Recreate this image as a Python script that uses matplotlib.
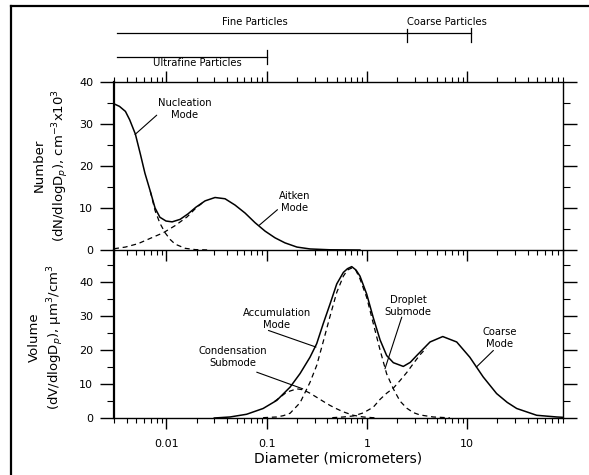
import numpy as np
import matplotlib
matplotlib.use("Agg")
import matplotlib.pyplot as plt
import matplotlib.transforms as mtransforms
from matplotlib.lines import Line2D
from matplotlib.ticker import LogLocator, MultipleLocator, NullFormatter

# diameters in micrometers
# number distribution (upper panel), cm^-3 x 10^3
num_total_d = [0.0030, 0.0034, 0.0039, 0.0043, 0.0049, 0.0055, 0.0061, 0.0069, 0.0077, 0.0086,
               0.0099, 0.0114, 0.0137, 0.0164, 0.0197, 0.0243, 0.0305, 0.0384, 0.0483, 0.0608,
               0.0765, 0.0962, 0.121, 0.152, 0.200, 0.270, 0.428, 0.85]
num_total = [34.8, 34.2, 33.0, 31.0, 27.6, 22.8, 18.3, 14.0, 10.0, 7.8,
             6.9, 6.7, 7.3, 8.6, 10.2, 11.7, 12.5, 12.2, 10.7, 8.8,
             6.5, 4.5, 2.9, 1.7, 0.7, 0.25, 0.05, 0.0]
nucl_d = [0.0069, 0.0077, 0.0086, 0.0097, 0.0109, 0.0122, 0.0154, 0.0193, 0.0272]
nucl = [14.0, 9.4, 6.4, 4.1, 2.5, 1.4, 0.4, 0.1, 0.0]
aitken_d = [0.0030, 0.0039, 0.0052, 0.0071, 0.0093, 0.0122, 0.0161, 0.0197, 0.0243]
aitken = [0.3, 0.7, 1.5, 2.9, 4.1, 5.8, 7.9, 10.0, 11.7]

# volume distribution (lower panel), um^3/cm^3
vol_total_d = [0.030, 0.043, 0.063, 0.092, 0.126, 0.171, 0.215, 0.270, 0.315, 0.366,
               0.428, 0.499, 0.581, 0.639, 0.704, 0.777, 0.851, 0.993, 1.156, 1.35,
               1.57, 1.83, 2.30, 2.70, 3.13, 4.25, 5.69, 7.84, 10.6, 14.4,
               19.6, 25.0, 31.1, 49.2, 77.9, 90.0]
vol_total = [0.0, 0.3, 1.1, 2.8, 5.2, 9.1, 13.1, 17.9, 21.9, 27.8,
             33.6, 39.5, 42.9, 44.0, 44.6, 43.6, 41.8, 36.5, 29.5, 23.0,
             18.4, 16.3, 15.2, 16.4, 18.4, 22.4, 24.0, 22.4, 17.9, 12.1,
             7.2, 4.6, 2.8, 0.8, 0.3, 0.2]
cond_d = [0.120, 0.158, 0.199, 0.232, 0.270, 0.315, 0.366, 0.428, 0.499, 0.581, 0.730, 0.918, 1.20]
cond = [4.9, 7.6, 8.6, 8.3, 7.3, 6.1, 4.9, 3.7, 2.7, 1.8, 0.8, 0.3, 0.05]
drop_d = [0.092, 0.126, 0.147, 0.171, 0.215, 0.270, 0.315, 0.366, 0.428, 0.499,
          0.581, 0.639, 0.704, 0.777, 0.851, 0.993, 1.156, 1.35, 1.57, 1.83,
          2.13, 2.49, 2.89, 3.37, 4.58, 6.70]
drop = [0.1, 0.3, 0.7, 1.4, 4.5, 10.5, 15.5, 22.5, 30.0, 37.0,
        41.8, 43.6, 44.2, 43.4, 41.0, 35.5, 27.8, 20.0, 13.0, 8.6,
        5.0, 2.9, 1.6, 0.9, 0.3, 0.05]
coarse_d = [0.45, 0.58, 0.73, 0.918, 1.156, 1.35, 1.57, 1.83, 2.13, 2.49, 2.89, 3.37, 3.90]
coarse = [0.1, 0.3, 0.6, 1.5, 3.2, 5.5, 7.3, 8.8, 11.0, 13.4, 16.0, 18.6, 20.6]

x_ticks = [0.01, 0.1, 1, 10]
x_ticklabels = ["0.01", "0.1", "1", "10"]
y_ticks = [0, 10, 20, 30, 40]

# size class boundaries (um)
fine_range = (0.0032, 2.5)
coarse_range = (2.5, 11.0)
ultrafine_range = (0.0032, 0.1)

W, H = 589, 475
fig = plt.figure(figsize=(W / 100, H / 100), dpi=100)
fig.patch.set_facecolor("white")

# lower panel first so the upper panel's bottom ticks stay visible
ax_v = fig.add_axes([114 / W, 1 - 418 / H, 449 / W, 168 / H])
ax_n = fig.add_axes([114 / W, 1 - 250 / H, 449 / W, 168 / H])

for ax in (ax_n, ax_v):
    ax.patch.set_visible(False)
    ax.set_xscale("log")
    ax.set_xlim(0.003, 90)
    ax.xaxis.set_major_locator(LogLocator(base=10, numticks=50))
    ax.xaxis.set_minor_locator(LogLocator(base=10, subs=np.arange(2, 10), numticks=50))
    ax.xaxis.set_minor_formatter(NullFormatter())
    ax.set_yticks(y_ticks)
    ax.yaxis.set_minor_locator(MultipleLocator(5))
    ax.tick_params(axis="y", which="major", direction="out", length=10, width=1.0,
                   left=True, right=True, labelright=False, labelsize=8, pad=5)
    ax.tick_params(axis="y", which="minor", direction="out", length=5, width=0.8,
                   left=True, right=True)
    ax.tick_params(axis="x", which="major", direction="out", length=8, width=1.0, labelsize=8, pad=7)
    ax.tick_params(axis="x", which="minor", direction="out", length=3.6, width=0.8)
    for side in ("top", "bottom", "right"):
        ax.spines[side].set_linewidth(1.0)
    ax.spines["left"].set_linewidth(1.6)

ax_n.set_ylim(0, 40)
ax_n.tick_params(axis="x", which="both", top=True, bottom=True, labelbottom=False, labeltop=False)
ax_v.set_ylim(0, 49.5)
ax_v.tick_params(axis="x", which="both", top=False, bottom=True)
ax_v.set_xticks(x_ticks, x_ticklabels)
ax_v.spines["top"].set_visible(False)

dash = (0, (4, 3))
ax_n.plot(num_total_d, num_total, color="black", lw=1.1)
ax_n.plot(nucl_d, nucl, color="black", lw=0.9, ls=dash)
ax_n.plot(aitken_d, aitken, color="black", lw=0.9, ls=dash)

ax_v.plot(vol_total_d, vol_total, color="black", lw=1.1)
ax_v.plot(cond_d, cond, color="black", lw=0.9, ls=dash)
ax_v.plot(drop_d, drop, color="black", lw=0.9, ls=dash)
ax_v.plot(coarse_d, coarse, color="black", lw=0.9, ls=dash)

# mode labels with leader lines: (axis, text, text pos, line start, line end)
notes = [
    (ax_n, "Nucleation\nMode", (0.0153, 33.6), (0.0080, 32.1), (0.00486, 27.5)),
    (ax_n, "Aitken\nMode", (0.191, 11.4), (0.128, 9.6), (0.0843, 5.9)),
    (ax_v, "Accumulation\nMode", (0.126, 29.2), (0.104, 25.8), (0.310, 20.9)),
    (ax_v, "Condensation\nSubmode", (0.0461, 18.0), (0.0795, 13.5), (0.2285, 8.6)),
    (ax_v, "Droplet\nSubmode", (2.56, 33.0), (2.22, 29.7), (1.51, 14.5)),
    (ax_v, "Coarse\nMode", (21.2, 23.5), (18.2, 19.9), (12.3, 15.0)),
]
for ax, txt, pos, start, end in notes:
    ax.text(pos[0], pos[1], txt, ha="center", va="center", fontsize=7.2,
            multialignment="center")
    ax.annotate("", xy=end, xytext=start,
                arrowprops=dict(arrowstyle="-", lw=0.8, color="black", shrinkA=0, shrinkB=0))

# particle size class brackets above the plot
trans = mtransforms.blended_transform_factory(ax_n.transData, fig.transFigure)
y_fine = 1 - 33.3 / H
y_ultra = 1 - 56.7 / H
ax_n.plot(fine_range, [y_fine, y_fine], transform=trans, clip_on=False, color="black", lw=0.9)
ax_n.plot(coarse_range, [y_fine, y_fine], transform=trans, clip_on=False, color="black", lw=0.9)
ax_n.plot([fine_range[1]] * 2, [1 - 29.3 / H, 1 - 42.3 / H], transform=trans, clip_on=False, color="black", lw=0.9)
ax_n.plot([coarse_range[1]] * 2, [1 - 28.3 / H, 1 - 41.7 / H], transform=trans, clip_on=False, color="black", lw=0.9)
ax_n.plot(ultrafine_range, [y_ultra, y_ultra], transform=trans, clip_on=False, color="black", lw=0.9)
ax_n.plot([ultrafine_range[1]] * 2, [1 - 50 / H, 1 - 64.3 / H], transform=trans, clip_on=False, color="black", lw=0.9)
ax_n.text(0.0764, 1 - 22 / H, "Fine Particles", transform=trans, ha="center", va="center", fontsize=7.2)
ax_n.text(6.27, 1 - 22 / H, "Coarse Particles", transform=trans, ha="center", va="center", fontsize=7.2)
ax_n.text(0.0202, 1 - 63 / H, "Ultrafine Particles", transform=trans, ha="center", va="center", fontsize=7.2)

# axis titles
fig.text(52 / W, 1 - 165 / H, "Number\n(dN/dlogD$_p$), cm$^{-3}$x10$^3$", rotation=90,
         ha="center", va="center", fontsize=9.5, multialignment="center", linespacing=1.35)
fig.text(47 / W, 1 - 337 / H, "Volume\n(dV/dlogD$_p$), μm$^3$/cm$^3$", rotation=90,
         ha="center", va="center", fontsize=9.5, multialignment="center", linespacing=1.35)
ax_v.set_xlabel("Diameter (micrometers)", fontsize=10, labelpad=2)

# outer frame (left and top edges visible)
fig.add_artist(Line2D([11 / W, 11 / W], [0, 1 - 6 / H], transform=fig.transFigure, color="black", lw=1.6))
fig.add_artist(Line2D([11 / W, 1], [1 - 6 / H, 1 - 6 / H], transform=fig.transFigure, color="black", lw=1.6))

fig.savefig("out.png", dpi=100)
